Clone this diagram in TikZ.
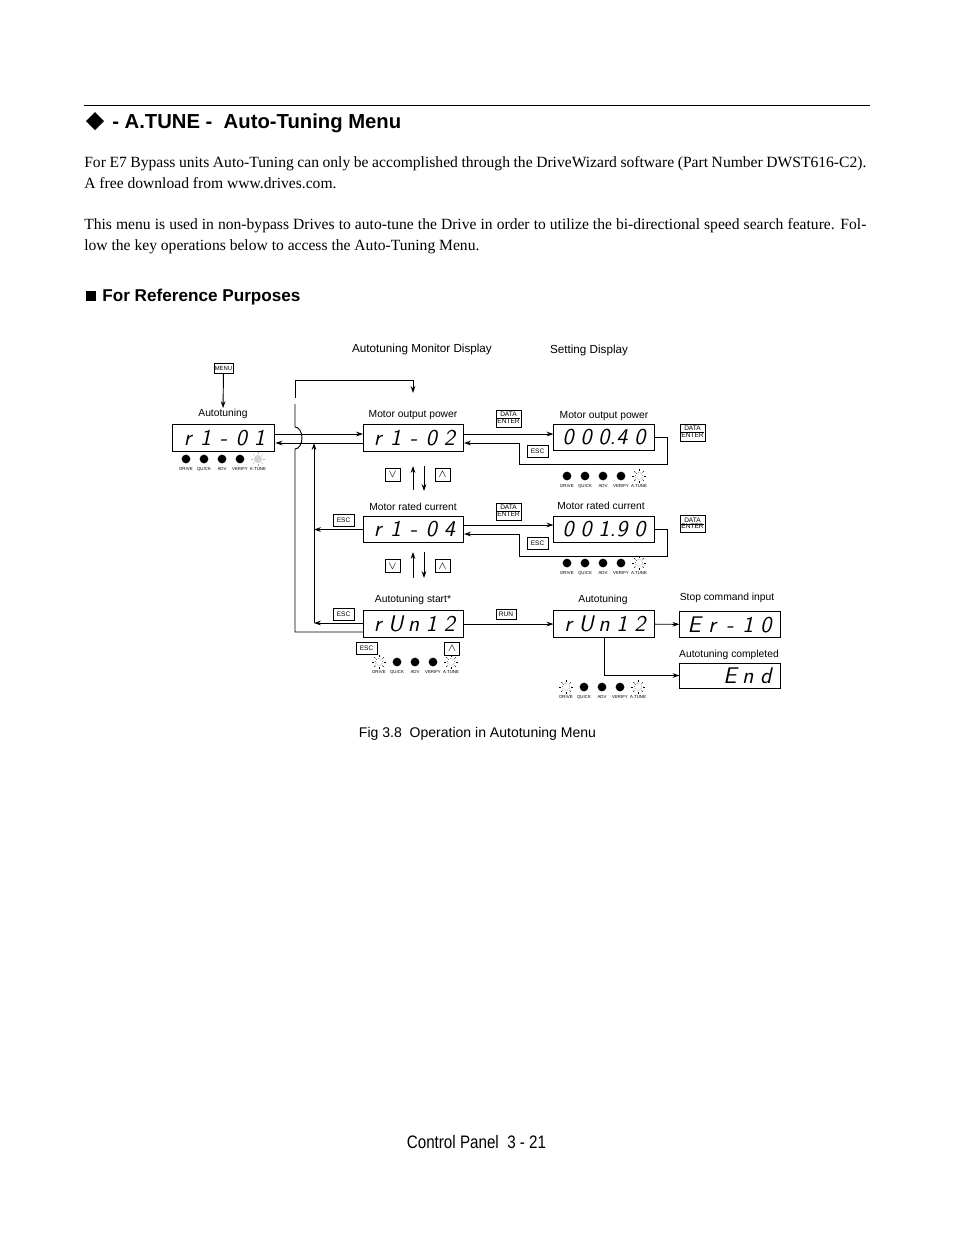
\documentclass[tikz,border=0pt]{standalone}
\usepackage{fontspec}
\setmainfont{Liberation Serif}
\setsansfont{Liberation Sans}
\usetikzlibrary{arrows.meta,positioning}

% seven segment look for the display texts
\newcommand\segfont{\fontencoding{TU}\fontfamily{lmss}\fontseries{m}\fontshape{sl}\fontsize{14.5}{15}\selectfont}
\newcommand\dg[1]{\makebox[11.5pt]{#1}}
\newcommand\dataenter{\renewcommand\arraystretch{0.7}\begin{tabular}{@{}c@{}}DATA\\\hline ENTER\end{tabular}}

% row of five lamps: name, x, y, state of each lamp (0 off, 1 lit, 2 dim)
\newcommand\leds[8]{%
  \foreach \st/\nm [count=\i from 0] in {#4/DRIVE,#5/QUICK,#6/ADV,#7/VERIFY,#8/A.TUNE}{
    \ifcase\st
      \fill ({#2+18*\i},#3) circle (2.8pt);
    \or
      \draw[densely dotted, line width=0.3pt] ({#2+18*\i},#3) circle (2.3pt);
      \foreach \a in {0,45,...,315}
        \draw[line width=0.3pt] ({#2+18*\i},#3) ++(\a:3.2pt) -- ++(\a:1.1pt);
    \or
      \fill[gray!35] ({#2+18*\i},#3) circle (2.6pt);
      \foreach \a in {0,45,...,315}
        \draw[gray!60, line width=0.3pt] ({#2+18*\i},#3) ++(\a:3.2pt) -- ++(\a:1.1pt);
    \fi
    \node[ledtxt] (#1-\i) at ({#2+18*\i},#3+9.5) {\nm};
  }}

\tikzset{
  disp/.style={draw, line width=0.6pt, minimum width=64.2pt, minimum height=16.8pt, inner sep=0pt, font=\segfont},
  key/.style={draw, line width=0.4pt, inner sep=0.5pt, minimum width=13.5pt, minimum height=7.7pt, font=\sffamily\fontsize{4.2}{4.2}\selectfont},
  dkey/.style={key, minimum width=16pt, minimum height=10.9pt},
  akey/.style={key, minimum width=9.6pt, minimum height=8.3pt, font=\fontsize{7}{7}\selectfont},
  lbl/.style={inner sep=0.5pt, font=\sffamily\fontsize{6.6}{8}\selectfont},
  hdr/.style={inner sep=0.5pt, font=\sffamily\fontsize{7.5}{9}\selectfont},
  ledtxt/.style={inner sep=0pt, text height=2pt, text depth=0pt, font=\sffamily\fontsize{2.8}{3}\selectfont},
  wire/.style={line width=0.6pt},
  body/.style={anchor=base west, inner sep=0pt, font=\fontsize{10}{12}\selectfont},
}

\begin{document}
\begin{tikzpicture}[x=0.6415pt, y=-0.6415pt, >={Stealth[length=4.5pt,width=3pt]}]
  \useasboundingbox (0,0) rectangle (954,1235);

  % Heading
  \draw[line width=0.6pt] (84,105) -- (870,105);
  \fill (86,121) -- (95,112) -- (104,121) -- (95,130) -- cycle;
  \node[anchor=base west, inner sep=0pt, font=\sffamily\bfseries\fontsize{13}{15}\selectfont] (title) at (112,128) {- A.TUNE - ~Auto-Tuning Menu};

  % Text
  \node[body] (p1a) at (84,167) {\makebox[501.7pt][s]{For E7 Bypass units Auto-Tuning can only be accomplished through the DriveWizard software (Part Number DWST616-C2).}};
  \node[body] (p1b) at (84,188) {A free download from www.drives.com.};
  \node[body] (p2a) at (84,229) {\makebox[501.7pt][s]{This menu is used in non-bypass Drives to auto-tune the Drive in order to utilize the bi-directional speed search feature. Fol-}};
  \node[body] (p2b) at (84,250) {low the key operations below to access the Auto-Tuning Menu.};

  \fill (86,291) rectangle (96,301);
  \node[anchor=base west, inner sep=0pt, font=\sffamily\bfseries\fontsize{11}{13}\selectfont] (sub) at (102,301) {For Reference Purposes};

  % Column titles
  \node[hdr] (hmon) at (422,349) {Autotuning Monitor Display};
  \node[hdr] (hset) at (589,350) {Setting Display};

  % First display
  \node[key, minimum width=12.2pt, minimum height=6.4pt, font=\sffamily\fontsize{3.8}{3.8}\selectfont] (kmenu) at (223.5,368) {MENU};
  \node[lbl] (l1) at (223,414) {Autotuning};
  \node[disp, minimum width=66pt] (d1) at (223.5,438) {\dg{r}\dg{1}\dg{-}\dg{0}\dg{1}};
  \leds{a}{186}{459}{0}{0}{0}{0}{2}

  % Monitor displays
  \node[lbl] (l2) at (413,415) {Motor output power};
  \node[disp] (d2) at (413.5,438) {\dg{r}\dg{1}\dg{-}\dg{0}\dg{2}};
  \node[akey] (kdn1) at (392.5,474.5) {$\vee$};
  \node[akey] (kup1) at (442.5,474.5) {$\wedge$};
  \node[lbl] (l3) at (413,507) {Motor rated current};
  \node[disp] (d3) at (413.5,529.5) {\dg{r}\dg{1}\dg{-}\dg{0}\dg{4}};
  \node[key] (kesc2) at (343.5,520) {ESC};
  \node[akey] (kdn2) at (392.5,566) {$\vee$};
  \node[akey] (kup2) at (442.5,566) {$\wedge$};
  \node[lbl] (l5) at (413,600) {Autotuning start*};
  \node[disp] (d5) at (413.5,624) {\dg{r}\dg{U}\dg{n}\dg{1}\dg{2}};
  \node[key] (kesc4) at (343.5,614.5) {ESC};
  \node[key] (kesc5) at (366.5,648.5) {ESC};
  \node[akey] (kup3) at (452,648.5) {$\wedge$};
  \leds{c}{379}{662}{1}{0}{0}{0}{1}

  % Setting displays
  \node[dkey] (kde1) at (508.5,418.5) {\dataenter};
  \node[lbl] (l4) at (604,416) {Motor output power};
  \node[disp] (d4) at (604,437.5) {\dg{0}\dg{0}\dg{0\rlap{.}}\dg{4}\dg{0}};
  \node[dkey] (kde2) at (692.5,432.5) {\dataenter};
  \node[key] (kesc1) at (537.5,451.5) {ESC};
  \leds{b}{567}{476}{0}{0}{0}{0}{1}
  \node[dkey] (kde3) at (508.5,511.5) {\dataenter};
  \node[lbl] (l6) at (601,506) {Motor rated current};
  \node[disp] (d6) at (604,529.5) {\dg{0}\dg{0}\dg{1\rlap{.}}\dg{9}\dg{0}};
  \node[dkey] (kde4) at (692.5,524) {\dataenter};
  \node[key] (kesc3) at (537.5,543) {ESC};
  \leds{e}{567}{563}{0}{0}{0}{0}{1}

  % Autotuning run
  \node[key, minimum width=12.8pt, minimum height=6.4pt] (krun) at (506,614) {RUN};
  \node[lbl] (l7) at (603,600) {Autotuning};
  \node[disp] (d7) at (604,624) {\dg{r}\dg{U}\dg{n}\dg{1}\dg{2}};
  \leds{f}{566}{687}{1}{0}{0}{0}{1}
  \node[lbl] (l8) at (727,598) {Stop command input};
  \node[disp] (d8) at (730,624.5) {\dg{E}\dg{r}\dg{-}\dg{1}\dg{0}};
  \node[lbl] (l9) at (729,655) {Autotuning completed};
  \node[disp, minimum height=16pt] (d9) at (730,675.5) {\dg{}\dg{}\dg{E}\dg{n}\dg{d}};

  % Connectors
  \coordinate (j1) at (314,623);
  \coordinate (j2) at (314,443);
  \coordinate (back) at (413,393);
  \draw[wire,->] (kmenu) -- (l1);
  \draw[wire,->] (d1.east |- 0,434) -- (d2.west |- 0,434);
  \draw[wire,->] (d2.west |- 0,443) -- (d1.east |- 0,443);
  \draw[wire] (d5.west |- 0,632) -- (295,632) -- (295,449)
    arc[start angle=90, end angle=-90, x radius=7, y radius=11] -- (295,404);
  \draw[wire,->] (295,398) -- (295,380) -| (back);
  \draw[wire,->] (d3.west) -- (d3.west -| j1);
  \draw[wire,->] (d5.west |- j1) -- (j1);
  \draw[wire,->] (j1) -- (j2);
  \draw[wire,->] (413,490) -- (413,466);
  \draw[wire,->] (424,466) -- (424,491);
  \draw[wire,->] (413,578) -- (413,552);
  \draw[wire,->] (424,552) -- (424,578);
  \draw[wire,->] (d2.east |- 0,434) -- (d4.west |- 0,434);
  \draw[wire,->] (d4.east |- 0,437) -- (667,437) -- (667,464) -- (519,464) -- (519,443) -- (d2.east |- 0,443);
  \draw[wire,->] (d3.east |- 0,525) -- (d6.west |- 0,525);
  \draw[wire,->] (d6.east |- 0,529) -- (667,529) -- (667,556) -- (519,556) -- (519,534) -- (d3.east |- 0,534);
  \draw[wire,->] (d5) -- (d7);
  \draw[wire,->] (d7) -- (d8);
  \draw[wire,->] (d7.south) |- (d9.west);

  % Caption and page footer
  \node[inner sep=0pt, font=\sffamily\fontsize{9}{11}\selectfont] (cap) at (477.5,734) {Fig 3.8~ Operation in Autotuning Menu};
  \node[inner sep=0pt, font=\sffamily\fontsize{11.6}{14}\selectfont] (foot) at (476.5,1142) {\scalebox{0.84}[1]{Control Panel~ 3 - 21}};
\end{tikzpicture}
\end{document}
